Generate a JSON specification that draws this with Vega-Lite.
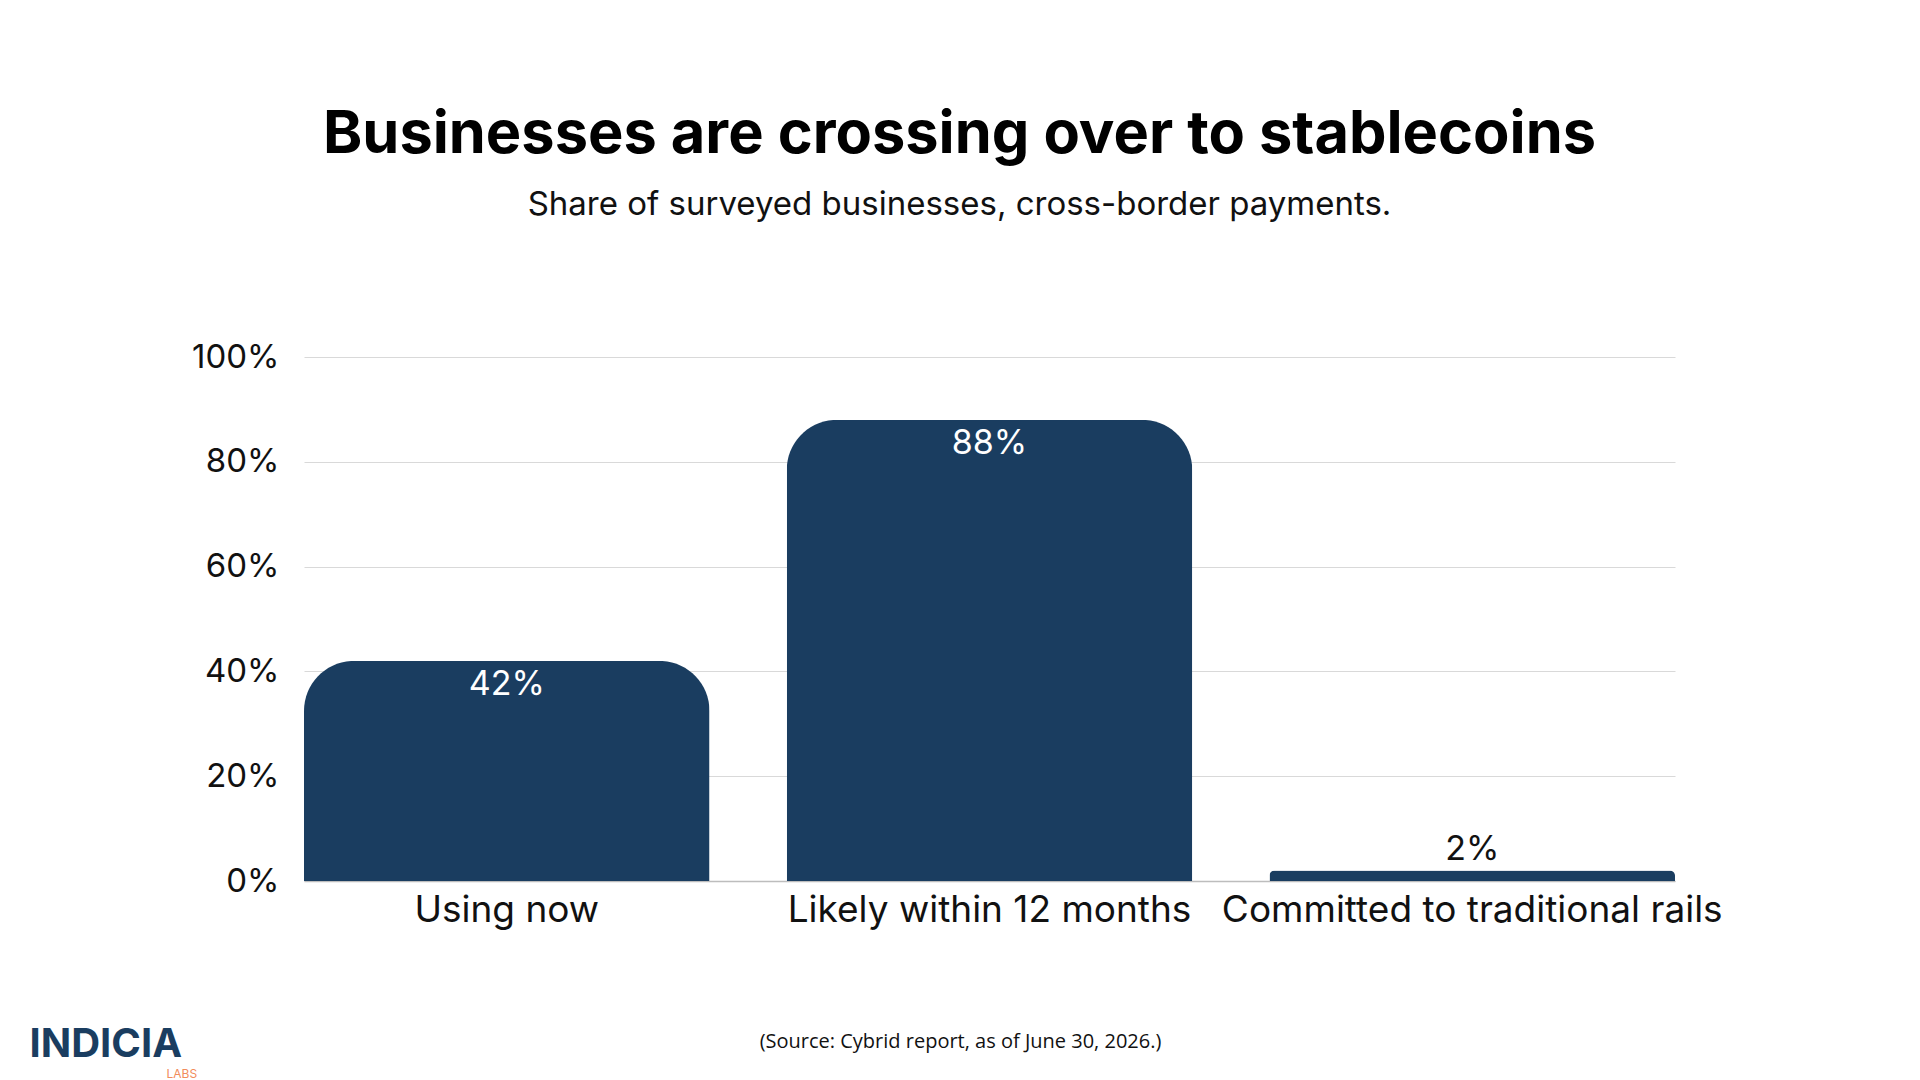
{
  "$schema": "https://vega.github.io/schema/vega-lite/v6.json",
  "width": 1371,
  "height": 524,
  "autosize": {"type": "pad"},
  "padding": {"left": 29, "top": 104, "right": 0, "bottom": 0},
  "background": "white",
  "title": {
    "text": "Businesses are crossing over to stablecoins",
    "subtitle": "Share of surveyed businesses, cross-border payments.",
    "anchor": "middle",
    "frame": "group",
    "dx": -30,
    "offset": 118,
    "font": "Inter",
    "fontSize": 59.5,
    "fontWeight": 700,
    "color": "#000000",
    "subtitleFont": "Inter",
    "subtitleFontSize": 33,
    "subtitleFontWeight": 400,
    "subtitleColor": "#111111",
    "subtitlePadding": 24
  },
  "data": {
    "values": [
      {"category": "Using now", "share": 0.42},
      {"category": "Likely within 12 months", "share": 0.88},
      {"category": "Committed to traditional rails", "share": 0.02}
    ]
  },
  "resolve": {"scale": {"y": "independent"}},
  "layer": [
    {
      "mark": {
        "type": "bar",
        "color": "#1a3d60",
        "cornerRadiusTopLeft": 50,
        "cornerRadiusTopRight": 50
      },
      "encoding": {
        "x": {
          "field": "category",
          "type": "nominal",
          "sort": null,
          "scale": {"paddingInner": 0.16, "paddingOuter": 0},
          "axis": {
            "title": "(Source: Cybrid report, as of June 30, 2026.)",
            "titleFont": "Open Sans",
            "titleFontSize": 20,
            "titleFontWeight": 400,
            "titleColor": "#111111",
            "titleX": 656,
            "titleY": 160,
            "titleAlign": "center",
            "titleBaseline": "middle",
            "labelAngle": 0,
            "labelFont": "Inter",
            "labelFontSize": 37,
            "labelColor": "#111111",
            "labelPadding": 11,
            "labelLimit": 700,
            "labelOverlap": false,
            "ticks": false,
            "tickSize": 0,
            "domainColor": "#bdbdbd",
            "domainWidth": 1.5
          }
        },
        "y": {
          "field": "share",
          "type": "quantitative",
          "scale": {"domain": [0, 1]},
          "axis": {
            "values": [0, 0.2, 0.4, 0.6, 0.8, 1],
            "format": ".0%",
            "labelFont": "Inter",
            "labelFontSize": 33,
            "labelColor": "#111111",
            "labelPadding": 25,
            "ticks": false,
            "tickSize": 0,
            "domain": false,
            "gridColor": "#d9d9d9",
            "gridWidth": 1.2,
            "title": "INDICIA",
            "titleAngle": 0,
            "titleAlign": "left",
            "titleBaseline": "middle",
            "titleX": -275,
            "titleY": 687,
            "titleFont": "Inter",
            "titleFontSize": 40,
            "titleFontWeight": 700,
            "titleColor": "#1a3d60"
          }
        }
      }
    },
    {
      "transform": [{"filter": "datum.share >= 0.1"}],
      "mark": {
        "type": "text",
        "color": "#ffffff",
        "baseline": "top",
        "dy": 7,
        "font": "Inter",
        "fontSize": 34
      },
      "encoding": {
        "x": {"field": "category", "type": "nominal", "sort": null},
        "y": {
          "field": "share",
          "type": "quantitative",
          "scale": {"domain": [0, 1]},
          "axis": null
        },
        "text": {"field": "share", "type": "quantitative", "format": ".0%"}
      }
    },
    {
      "transform": [{"filter": "datum.share < 0.1"}],
      "mark": {
        "type": "text",
        "color": "#111111",
        "baseline": "bottom",
        "dy": -4,
        "font": "Inter",
        "fontSize": 34
      },
      "encoding": {
        "x": {"field": "category", "type": "nominal", "sort": null},
        "y": {
          "field": "share",
          "type": "quantitative",
          "scale": {"domain": [0, 1]},
          "axis": {
            "orient": "right",
            "labels": false,
            "ticks": false,
            "domain": false,
            "grid": false,
            "title": "LABS",
            "titleAngle": 0,
            "titleAlign": "left",
            "titleBaseline": "middle",
            "titleX": -1509,
            "titleY": 716,
            "titleFont": "Inter",
            "titleFontSize": 12,
            "titleFontWeight": 400,
            "titleColor": "#f28c5b"
          }
        },
        "text": {"field": "share", "type": "quantitative", "format": ".0%"}
      }
    }
  ],
  "config": {"view": {"stroke": null}}
}
